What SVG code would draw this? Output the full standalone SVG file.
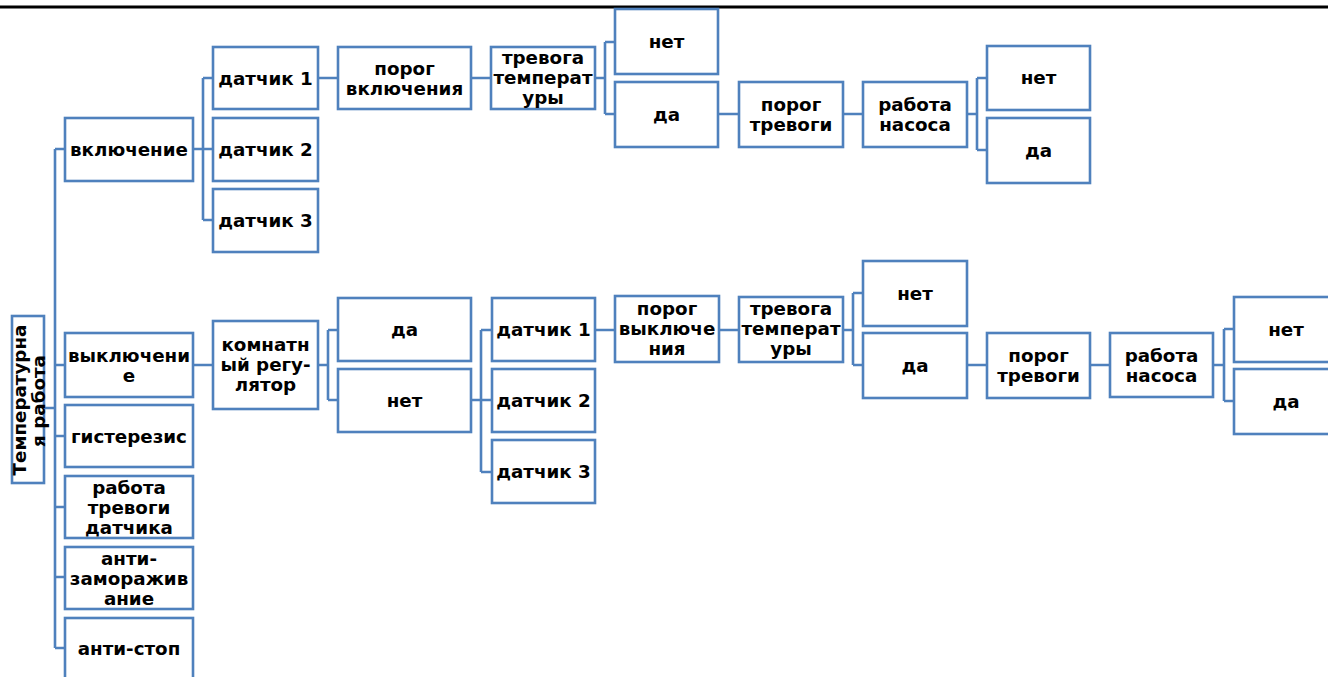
<svg xmlns="http://www.w3.org/2000/svg" width="1328" height="677" viewBox="0 0 1328 677">
<style>
.b{fill:#fff;stroke:#4F81BD;stroke-width:2.6}
.t{font-family:"DejaVu Sans",Verdana,sans-serif;font-weight:bold;font-size:18.3px;fill:#000;text-anchor:middle}
.c{fill:none;stroke:#4F81BD;stroke-width:2.6}
</style>
<rect width="1328" height="677" fill="#fff"/>
<line x1="0" y1="7" x2="1328" y2="7" stroke="#000" stroke-width="2.8"/>
<g id="connectors">
<path class="c" d="M44,408H55M55,149V648M55,149H65M55,365H65M55,436H65M55,507H65M55,577H65M55,648H65"/>
<path class="c" d="M193,149H203M203,78V220M203,78H213M203,149H213M203,220H213"/>
<path class="c" d="M318,78H338M471,78H491M595,78H605M605,42V114M605,42H615M605,114H615"/>
<path class="c" d="M718,114H739M843,114H863M967,114H977M977,78V150M977,78H987M977,150H987"/>
<path class="c" d="M193,365H213M318,365H328M328,330V400M328,330H338M328,400H338"/>
<path class="c" d="M471,400H481M481,330V472M481,330H492M481,400H492M481,472H492"/>
<path class="c" d="M595,330H615M719,330H739M843,330H853M853,293V365M853,293H863M853,365H863"/>
<path class="c" d="M967,365H987M1090,365H1110M1213,365H1224M1224,329V401M1224,329H1234M1224,401H1234"/>
</g>
<g id="root"><rect class="b" x="12" y="316" width="32" height="167"/>
<text class="t" transform="rotate(-90)"><tspan x="-400" y="26">Температурна</tspan><tspan x="-401" y="45">я работа</tspan></text></g>
<g id="vkl"><rect class="b" x="65" y="118" width="128" height="63"/><text class="t" x="129" y="155.5">включение</text></g>
<g id="vykl"><rect class="b" x="65" y="333" width="128" height="64"/><text class="t"><tspan x="129" y="361.5">выключени</tspan><tspan x="129" y="381.5">е</tspan></text></g>
<g id="gist"><rect class="b" x="65" y="405" width="128" height="62"/><text class="t" x="129" y="442.5">гистерезис</text></g>
<g id="rtd"><rect class="b" x="65" y="476" width="128" height="62"/><text class="t"><tspan x="129" y="493.5">работа</tspan><tspan x="129" y="513.5">тревоги</tspan><tspan x="129" y="533.5">датчика</tspan></text></g>
<g id="antiz"><rect class="b" x="65" y="547" width="128" height="62"/><text class="t"><tspan x="129" y="564.5">анти-</tspan><tspan x="129" y="584.5">заморажив</tspan><tspan x="129" y="604.5">ание</tspan></text></g>
<g id="antis"><rect class="b" x="65" y="618" width="128" height="62"/><text class="t" x="129" y="654.5">анти-стоп</text></g>
<g id="d1"><rect class="b" x="213" y="47" width="105" height="62"/><text class="t" x="265.5" y="84.5">датчик 1</text></g>
<g id="d2"><rect class="b" x="213" y="118" width="105" height="63"/><text class="t" x="265.5" y="155.5">датчик 2</text></g>
<g id="d3"><rect class="b" x="213" y="189" width="105" height="63"/><text class="t" x="265.5" y="226.5">датчик 3</text></g>
<g id="porog-vkl"><rect class="b" x="338" y="47" width="133" height="62"/><text class="t"><tspan x="404.5" y="74.5">порог</tspan><tspan x="404.5" y="94.5">включения</tspan></text></g>
<g id="trev1"><rect class="b" x="491" y="47" width="104" height="62"/><text class="t"><tspan x="543" y="63.5">тревога</tspan><tspan x="543" y="83.5">температ</tspan><tspan x="543" y="103.5">уры</tspan></text></g>
<g id="net1"><rect class="b" x="615" y="9" width="103" height="65"/><text class="t" x="666.5" y="48">нет</text></g>
<g id="da1"><rect class="b" x="615" y="82" width="103" height="65"/><text class="t" x="666.5" y="120.5">да</text></g>
<g id="porog-tr1"><rect class="b" x="739" y="82" width="104" height="65"/><text class="t"><tspan x="791" y="110.5">порог</tspan><tspan x="791" y="130.5">тревоги</tspan></text></g>
<g id="rabota1"><rect class="b" x="863" y="82" width="104" height="65"/><text class="t"><tspan x="915" y="110.5">работа</tspan><tspan x="915" y="130.5">насоса</tspan></text></g>
<g id="net2"><rect class="b" x="987" y="46" width="103" height="64"/><text class="t" x="1038.5" y="84">нет</text></g>
<g id="da2"><rect class="b" x="987" y="118" width="103" height="65"/><text class="t" x="1038.5" y="156.5">да</text></g>
<g id="komn"><rect class="b" x="213" y="321" width="105" height="88"/><text class="t"><tspan x="265.5" y="351">комнатн</tspan><tspan x="265.5" y="371">ый регу-</tspan><tspan x="265.5" y="391">лятор</tspan></text></g>
<g id="da3"><rect class="b" x="338" y="298" width="133" height="63"/><text class="t" x="404.5" y="336">да</text></g>
<g id="net3"><rect class="b" x="338" y="369" width="133" height="63"/><text class="t" x="404.5" y="407">нет</text></g>
<g id="ld1"><rect class="b" x="492" y="298" width="103" height="63"/><text class="t" x="543.5" y="336">датчик 1</text></g>
<g id="ld2"><rect class="b" x="492" y="369" width="103" height="63"/><text class="t" x="543.5" y="407">датчик 2</text></g>
<g id="ld3"><rect class="b" x="492" y="440" width="103" height="63"/><text class="t" x="543.5" y="478">датчик 3</text></g>
<g id="porog-vykl"><rect class="b" x="615" y="296" width="104" height="66"/><text class="t"><tspan x="667" y="315">порог</tspan><tspan x="667" y="335">выключе</tspan><tspan x="667" y="355">ния</tspan></text></g>
<g id="trev2"><rect class="b" x="739" y="297" width="104" height="65"/><text class="t"><tspan x="791" y="315">тревога</tspan><tspan x="791" y="335">температ</tspan><tspan x="791" y="355">уры</tspan></text></g>
<g id="net4"><rect class="b" x="863" y="261" width="104" height="65"/><text class="t" x="915" y="299.5">нет</text></g>
<g id="da4"><rect class="b" x="863" y="333" width="104" height="65"/><text class="t" x="915" y="371.5">да</text></g>
<g id="porog-tr2"><rect class="b" x="987" y="333" width="103" height="65"/><text class="t"><tspan x="1038.5" y="361.5">порог</tspan><tspan x="1038.5" y="381.5">тревоги</tspan></text></g>
<g id="rabota2"><rect class="b" x="1110" y="333" width="103" height="64"/><text class="t"><tspan x="1161.5" y="361.5">работа</tspan><tspan x="1161.5" y="381.5">насоса</tspan></text></g>
<g id="net5"><rect class="b" x="1234" y="297" width="104" height="65"/><text class="t" x="1286" y="335.5">нет</text></g>
<g id="da5"><rect class="b" x="1234" y="369" width="104" height="65"/><text class="t" x="1286" y="407.5">да</text></g>
</svg>
